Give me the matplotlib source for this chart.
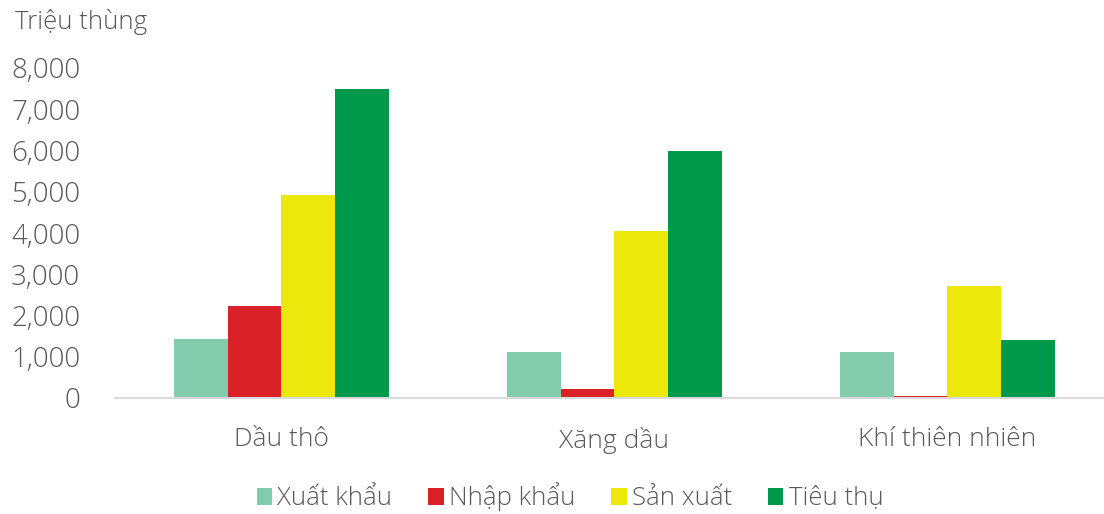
import numpy as np
import matplotlib.pyplot as plt
from matplotlib.patches import Patch

plt.rcParams['font.family'] = ['Open Sans', 'DejaVu Sans']
plt.rcParams['font.weight'] = 'light'

categories = ["Dầu thô", "Xăng dầu", "Khí thiên nhiên"]
series = ["Xuất khẩu", "Nhập khẩu", "Sản xuất", "Tiêu thụ"]
xuat_khau = [1430, 1115, 1115]
nhap_khau = [2230, 220, 55]
san_xuat = [4920, 4050, 2715]
tieu_thu = [7490, 5990, 1400]
colors = ["#82ccad", "#da2128", "#ece80b", "#00984a"]

values = [xuat_khau, nhap_khau, san_xuat, tieu_thu]
txt = "#595959"

fig = plt.figure(figsize=(11.04, 5.14), dpi=100)
ax = fig.add_axes([115 / 1104, 116 / 514, 989 / 1104, 330 / 514])

x = np.arange(len(categories))
w = 0.1615
for i, (vals, col) in enumerate(zip(values, colors)):
    ax.bar(x + (i - 1.5) * w, vals, width=w, color=col, edgecolor="none")

ax.set_xlim(-0.5, 2.47)
ax.set_ylim(0, 8000)
ax.set_yticks(range(0, 8001, 1000))
ax.set_yticklabels([f"{v:,}" for v in range(0, 8001, 1000)], fontsize=20, color=txt)
ax.set_xticks(x)
ax.set_xticklabels(categories, fontsize=19, color=txt)
ax.tick_params(axis="both", length=0)
ax.tick_params(axis="y", pad=25)
ax.tick_params(axis="x", pad=21)
for s in ["top", "right", "left"]:
    ax.spines[s].set_visible(False)
ax.spines["bottom"].set_color("#d9d9d9")
ax.spines["bottom"].set_linewidth(1.5)

fig.text(15 / 1104, 1 - 22 / 514, "Triệu thùng", fontsize=18.5, color=txt, va="center")

handles = [Patch(facecolor=c, edgecolor="none") for c in colors]
fig.legend(handles, series, loc="center", bbox_to_anchor=(570 / 1104, 1 - 497 / 514),
           ncol=4, frameon=False, fontsize=18.5, labelcolor=txt,
           handlelength=0.6, handleheight=0.6, handletextpad=0.2, columnspacing=1.4)

fig.savefig("out.png", dpi=100)
